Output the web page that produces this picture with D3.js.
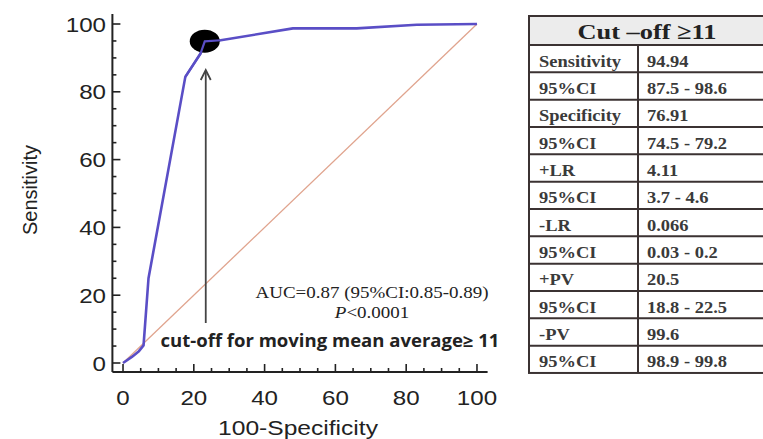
<!DOCTYPE html>
<html><head><meta charset="utf-8">
<script src="https://cdn.jsdelivr.net/npm/d3@7"></script>
<style>body{margin:0;background:#fff}svg{display:block}</style>
</head><body>
<svg id="c" width="763" height="439"></svg>
<script>
// ROC curve points (100-Specificity, Sensitivity)
const rocX = [0, 2.5, 4.5, 5.8, 7.2, 17.6, 21.9, 23.1, 27.6, 48, 66, 83, 100];
const rocY = [0, 1.8, 3.5, 5.2, 25, 84.4, 91.3, 94.9, 95.2, 98.7, 98.7, 99.8, 100];
const cutX = 23.09, cutY = 94.94;
const xTicks = [0, 20, 40, 60, 80, 100];
const yTicks = [0, 20, 40, 60, 80, 100];
const minorTicks = d3.range(0, 101, 5);
const tableHeader = "Cut \u2013off \u226511";
const rowLabels = ["Sensitivity","95%CI","Specificity","95%CI","+LR","95%CI","-LR","95%CI","+PV","95%CI","-PV","95%CI"];
const rowValues = ["94.94","87.5 - 98.6","76.91","74.5 - 79.2","4.11","3.7 - 4.6","0.066","0.03 - 0.2","20.5","18.8 - 22.5","99.6","98.9 - 99.8"];

const svg = d3.select("#c");
const x = d3.scaleLinear().domain([-3, 103]).range([112.4, 487.6]);
const y = d3.scaleLinear().domain([0, 100]).range([363, 24]);
const SX = 1.15;
const sans = "Liberation Sans, Arial, sans-serif";
const serif = "Liberation Serif, Times New Roman, serif";

// diagonal
svg.append("line").attr("x1", x(0)).attr("y1", y(0)).attr("x2", x(100)).attr("y2", y(100))
  .attr("stroke", "#e0a48e").attr("stroke-width", 1.3);

// ROC curve
const pts = rocX.map((v, i) => [v, rocY[i]]);
svg.append("path").datum(pts)
  .attr("d", d3.line().x(d => x(d[0])).y(d => y(d[1])))
  .attr("fill", "none").attr("stroke", "#5a4ec6").attr("stroke-width", 2.6)
  .attr("stroke-linejoin", "round");

// axes
const xAxisY = 372, yAxisX = 112.4;
svg.append("line").attr("x1", yAxisX).attr("x2", x(103)).attr("y1", xAxisY).attr("y2", xAxisY)
  .attr("stroke", "#222").attr("stroke-width", 2);
svg.append("line").attr("x1", yAxisX).attr("x2", yAxisX).attr("y1", xAxisY).attr("y2", 14)
  .attr("stroke", "#222").attr("stroke-width", 2);
minorTicks.forEach(t => {
  const L = t % 20 === 0 ? 8 : 4;
  svg.append("line").attr("x1", x(t)).attr("x2", x(t)).attr("y1", xAxisY).attr("y2", xAxisY - L)
    .attr("stroke", "#222").attr("stroke-width", 1.6);
  svg.append("line").attr("x1", yAxisX).attr("x2", yAxisX + L).attr("y1", y(t)).attr("y2", y(t))
    .attr("stroke", "#222").attr("stroke-width", 1.6);
});
function txt(g, s, px, py, opts) {
  const t = g.append("text")
    .attr("transform", `translate(${px},${py}) scale(${opts.sx || SX},1)` + (opts.rot ? ` rotate(${opts.rot})` : ""))
    .attr("font-family", opts.ff || sans).attr("font-size", opts.fs)
    .attr("font-weight", opts.fw || "normal").attr("fill", opts.fill || "#222")
    .attr("text-anchor", opts.anchor || "middle").text(s);
  return t;
}
xTicks.forEach(t => txt(svg, t, x(t), 405, {fs: 21}));
yTicks.forEach(t => txt(svg, t, 106, y(t) + 7.5, {fs: 21, anchor: "end"}));
txt(svg, "100-Specificity", 298, 435, {fs: 20.5, sx: 1.2});
svg.append("text").attr("transform", "translate(37,190) rotate(-90)")
  .attr("font-family", sans).attr("font-size", 20).attr("fill", "#222")
  .attr("text-anchor", "middle").text("Sensitivity");

// arrow
const ax = x(cutX) + 1;
svg.append("line").attr("x1", ax).attr("x2", ax).attr("y1", 323).attr("y2", 71)
  .attr("stroke", "#444").attr("stroke-width", 1.8);
svg.append("path").attr("d", `M${ax - 5},${80} L${ax},${70} L${ax + 5},${80}`)
  .attr("fill", "none").attr("stroke", "#444").attr("stroke-width", 1.8);

// cut-off dot
svg.append("ellipse").attr("cx", x(cutX)).attr("cy", y(cutY)).attr("rx", 15).attr("ry", 11.5).attr("fill", "#000");
// re-draw curve piece on top of dot
svg.append("path").datum(pts.slice(5, 9))
  .attr("d", d3.line().x(d => x(d[0])).y(d => y(d[1])))
  .attr("fill", "none").attr("stroke", "#5a4ec6").attr("stroke-width", 2.2);

// annotations
txt(svg, "AUC=0.87 (95%CI:0.85-0.89)", 372, 298, {fs: 16.5, ff: serif});
const p = txt(svg, "", 372, 318, {fs: 16.5, ff: serif});
p.append("tspan").attr("font-style", "italic").text("P");
p.append("tspan").text("<0.0001");
txt(svg, "cut-off for moving mean average\u2265 11", 330, 347, {fs: 17, fw: "bold", ff: "Open Sans, sans-serif", sx: 1.09});

// table
const tL = 529, tTop = 16, hH = 29, rH = 27.33, colX = 638, tR = 770;
const tg = svg.append("g");
tg.append("rect").attr("x", tL).attr("y", tTop).attr("width", tR - tL).attr("height", hH).attr("fill", "#ececec");
const bc = "#3b3232";
const tBot = tTop + hH + rH * rowLabels.length;
tg.append("rect").attr("x", tL).attr("y", tTop).attr("width", tR - tL).attr("height", tBot - tTop)
  .attr("fill", "none").attr("stroke", bc).attr("stroke-width", 2);
tg.append("line").attr("x1", colX).attr("x2", colX).attr("y1", tTop + hH).attr("y2", tBot).attr("stroke", bc).attr("stroke-width", 2);
rowLabels.forEach((lab, i) => {
  const yt = tTop + hH + rH * i;
  tg.append("line").attr("x1", tL).attr("x2", tR).attr("y1", yt).attr("y2", yt).attr("stroke", bc).attr("stroke-width", 2);
  txt(tg, lab, tL + 10, yt + rH - 5.5, {fs: 16.5, ff: serif, anchor: "start", fw: "bold", fill: "#3a3a3a", sx: 1.12});
  txt(tg, rowValues[i], colX + 9, yt + rH - 5.5, {fs: 16.5, ff: serif, anchor: "start", fw: "bold", fill: "#3a3a3a", sx: 1.12});
});
txt(tg, tableHeader, 647, tTop + 23, {fs: 22, ff: serif, fw: "bold", sx: 1.2});
</script>
</body></html>
